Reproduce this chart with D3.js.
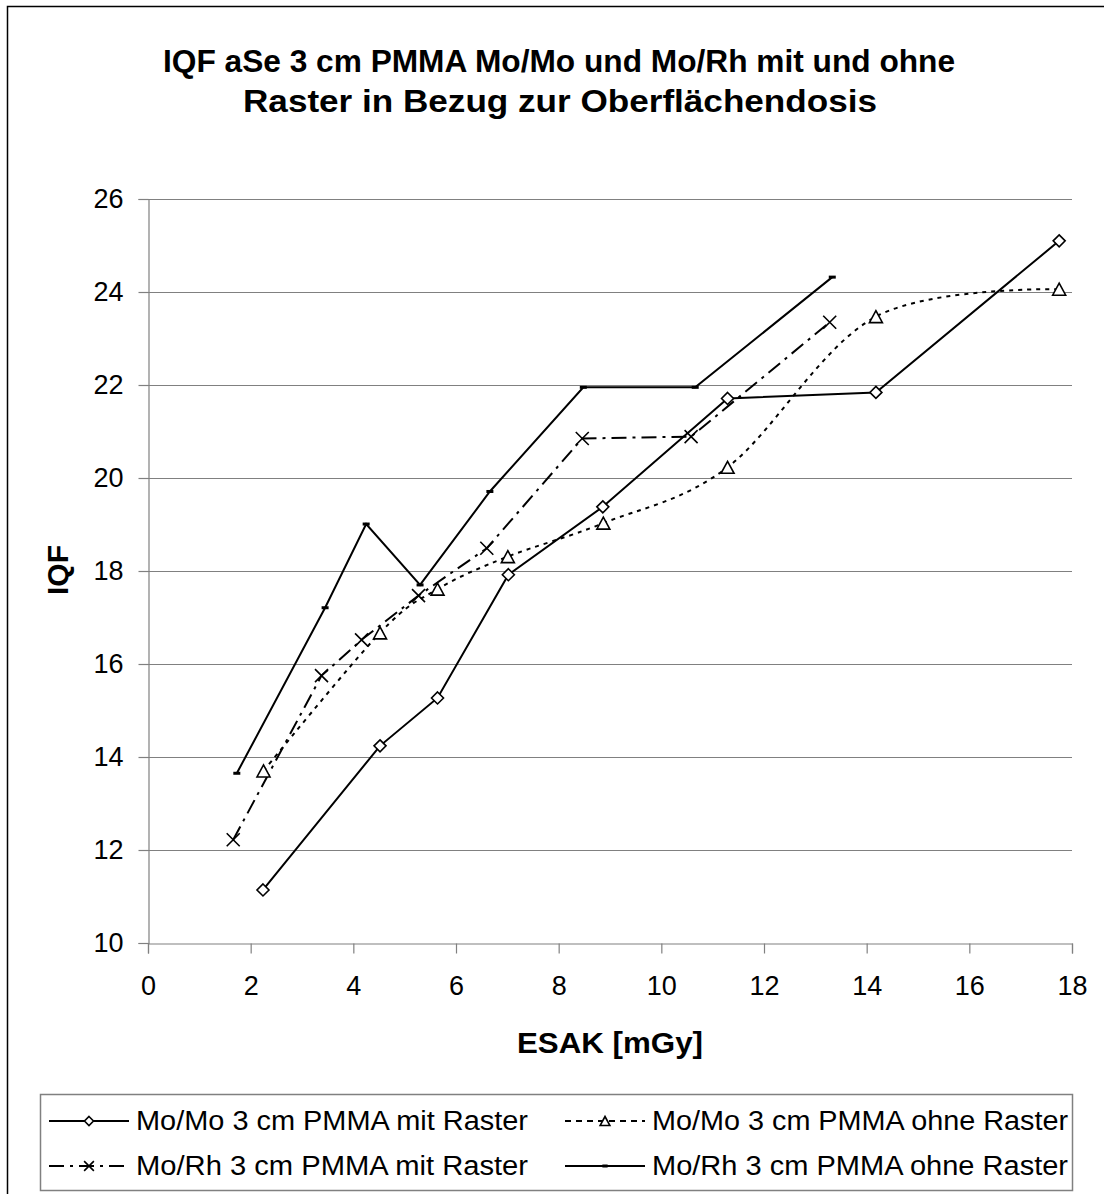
<!DOCTYPE html>
<html>
<head>
<meta charset="utf-8">
<script src="https://cdn.jsdelivr.net/npm/d3@7/dist/d3.min.js"></script>
<style>
  html, body { margin: 0; padding: 0; background: #fff; }
  svg { display: block; font-family: "Liberation Sans", Arial, sans-serif; }
</style>
</head>
<body>
<svg id="chart" width="1104" height="1194"></svg>
<script>
// ESAK [mGy] and IQF values per series
const esakMoMoMit  = [2.24, 4.52, 5.64, 7.02, 8.86, 11.29, 14.18, 17.75];
const iqfMoMoMit   = [11.14, 14.24, 15.27, 17.92, 19.38, 21.71, 21.84, 25.10];

const esakMoMoOhne = [2.25, 4.52, 5.64, 7.01, 8.87, 11.29, 14.18, 17.75];
const iqfMoMoOhne  = [13.70, 16.67, 17.61, 18.31, 19.03, 20.23, 23.47, 24.06];

const esakMoRhMit  = [1.66, 3.38, 4.16, 5.27, 6.60, 8.46, 10.58, 13.28];
const iqfMoRhMit   = [12.22, 15.75, 16.52, 17.47, 18.49, 20.85, 20.89, 23.35];

const esakMoRhOhne = [1.73, 3.45, 4.25, 5.30, 6.66, 8.48, 10.66, 13.33];
const iqfMoRhOhne  = [13.65, 17.21, 19.01, 17.70, 19.71, 21.95, 21.95, 24.32];

const seriesNames = [
  "Mo/Mo 3 cm PMMA mit Raster",
  "Mo/Mo 3 cm PMMA ohne Raster",
  "Mo/Rh 3 cm PMMA mit Raster",
  "Mo/Rh 3 cm PMMA ohne Raster"
];
const xTicks = [0, 2, 4, 6, 8, 10, 12, 14, 16, 18];
const yTicks = [10, 12, 14, 16, 18, 20, 22, 24, 26];

const titleLines = [
  "IQF aSe 3 cm PMMA Mo/Mo und Mo/Rh mit und ohne",
  "Raster in Bezug zur Oberflächendosis"
];
const xTitle = "ESAK [mGy]";
const yTitle = "IQF";

const svg = d3.select("#chart");

// outer chart frame (right/bottom edges run past the page)
svg.append("rect")
  .attr("x", 7.5).attr("y", 6.5)
  .attr("width", 1110).attr("height", 1200)
  .attr("fill", "#fff").attr("stroke", "#000").attr("stroke-width", 1.5);

const x = d3.scaleLinear().domain([0, 18]).range([148, 1072]);
const y = d3.scaleLinear().domain([10, 26]).range([943, 199]);

const gridColor = "#808080";

// horizontal gridlines
svg.append("g")
  .selectAll("line")
  .data(yTicks.filter(v => v !== 10))
  .join("line")
  .attr("x1", x(0)).attr("x2", x(18))
  .attr("y1", d => Math.round(y(d)) + 0.5).attr("y2", d => Math.round(y(d)) + 0.5)
  .attr("stroke", gridColor).attr("stroke-width", 1.2);

// axes
const yAxis = d3.axisLeft(y).tickValues(yTicks).tickSize(10).tickPadding(15).tickFormat(d3.format("d"));
const xAxis = d3.axisBottom(x).tickValues(xTicks).tickSize(10).tickPadding(22).tickFormat(d3.format("d"));

const gy = svg.append("g").attr("transform", `translate(${Math.round(x(0)) + 0.5},0)`).call(yAxis);
const gx = svg.append("g").attr("transform", `translate(0,${Math.round(y(10)) + 0.5})`).call(xAxis);

[gx, gy].forEach(g => {
  g.select(".domain").attr("stroke", gridColor).attr("stroke-width", 1.2);
  g.selectAll(".tick line").attr("stroke", gridColor).attr("stroke-width", 1.2);
  g.selectAll(".tick text")
    .attr("fill", "#000")
    .style("font-family", '"Liberation Sans", Arial, sans-serif')
    .style("font-size", "27px");
});
gx.selectAll(".tick text").attr("dy", "0.71em");

// line generators
const straight = d3.line().x(d => x(d[0])).y(d => y(d[1]));
const smooth = d3.line().x(d => x(d[0])).y(d => y(d[1])).curve(d3.curveCatmullRom.alpha(0));

const zip = (xs, ys) => xs.map((v, i) => [v, ys[i]]);

const series = [
  { name: seriesNames[0], pts: zip(esakMoMoMit, iqfMoMoMit), gen: straight, dash: null, marker: "diamond" },
  { name: seriesNames[1], pts: zip(esakMoMoOhne, iqfMoMoOhne), gen: smooth, dash: "4,5", marker: "triangle" },
  { name: seriesNames[2], pts: zip(esakMoRhMit, iqfMoRhMit), gen: straight, dash: "15,6,3,6", marker: "cross" },
  { name: seriesNames[3], pts: zip(esakMoRhOhne, iqfMoRhOhne), gen: straight, dash: null, marker: "bar" }
];

function drawMarker(g, type, cx, cy, s) {
  if (type === "diamond") {
    const r = 6 * s;
    g.append("path")
      .attr("d", `M${cx},${cy - r}L${cx + r},${cy}L${cx},${cy + r}L${cx - r},${cy}Z`)
      .attr("fill", "#fff").attr("stroke", "#000").attr("stroke-width", 1.6);
  } else if (type === "triangle") {
    const w = 6.5 * s, h = 12 * s;
    g.append("path")
      .attr("d", `M${cx},${cy - h / 2}L${cx + w},${cy + h / 2}L${cx - w},${cy + h / 2}Z`)
      .attr("fill", "#fff").attr("stroke", "#000").attr("stroke-width", 1.6);
  } else if (type === "cross") {
    const r = 6.5 * s;
    g.append("path")
      .attr("d", `M${cx - r},${cy - r}L${cx + r},${cy + r}M${cx - r},${cy + r}L${cx + r},${cy - r}`)
      .attr("fill", "none").attr("stroke", "#000").attr("stroke-width", 1.6);
  } else if (type === "bar") {
    g.append("rect")
      .attr("x", cx - 3.5 * s).attr("y", cy - 1.5)
      .attr("width", 7 * s).attr("height", 3)
      .attr("fill", "#000");
  }
}

const plot = svg.append("g");
series.forEach(s => {
  plot.append("path")
    .attr("d", s.gen(s.pts))
    .attr("fill", "none")
    .attr("stroke", "#000")
    .attr("stroke-width", 2)
    .attr("stroke-dasharray", s.dash);
});
series.forEach(s => {
  const mg = plot.append("g");
  s.pts.forEach(p => drawMarker(mg, s.marker, x(p[0]), y(p[1]), 1));
});

// titles
const title = svg.append("g").attr("font-weight", "bold").attr("font-size", "31px").attr("text-anchor", "middle");
title.append("text").attr("x", 559).attr("y", 72).attr("textLength", 792).attr("lengthAdjust", "spacingAndGlyphs").text(titleLines[0]);
title.append("text").attr("x", 560).attr("y", 112).attr("textLength", 634).attr("lengthAdjust", "spacingAndGlyphs").text(titleLines[1]);

svg.append("text")
  .attr("x", 610).attr("y", 1053)
  .attr("text-anchor", "middle").attr("font-weight", "bold").attr("font-size", "29px")
  .attr("textLength", 186).attr("lengthAdjust", "spacingAndGlyphs")
  .text(xTitle);

svg.append("text")
  .attr("transform", "translate(68,570) rotate(-90)")
  .attr("text-anchor", "middle").attr("font-weight", "bold").attr("font-size", "30px")
  .text(yTitle);

// legend
const legend = svg.append("g");
legend.append("rect")
  .attr("x", 40.5).attr("y", 1094.5).attr("width", 1032).attr("height", 96)
  .attr("fill", "#fff").attr("stroke", gridColor).attr("stroke-width", 1.5);

const legendPos = [
  { lx: 49, ty: 1121 }, { lx: 565, ty: 1121 },
  { lx: 49, ty: 1166 }, { lx: 565, ty: 1166 }
];
const legendTextLen = [392, 416, 392, 416];
series.forEach((s, i) => {
  const p = legendPos[i];
  legend.append("line")
    .attr("x1", p.lx).attr("x2", p.lx + 80)
    .attr("y1", p.ty).attr("y2", p.ty)
    .attr("stroke", "#000").attr("stroke-width", 2)
    .attr("stroke-dasharray", s.dash ? (s.marker === "triangle" ? "6,5" : "15,6,3,6") : null);
  const mg = legend.append("g");
  drawMarker(mg, s.marker, p.lx + 40, p.ty, 0.75);
  legend.append("text")
    .attr("x", p.lx + 87).attr("y", p.ty + 9)
    .attr("font-size", "27px")
    .attr("textLength", legendTextLen[i]).attr("lengthAdjust", "spacingAndGlyphs")
    .text(s.name);
});
</script>
</body>
</html>
